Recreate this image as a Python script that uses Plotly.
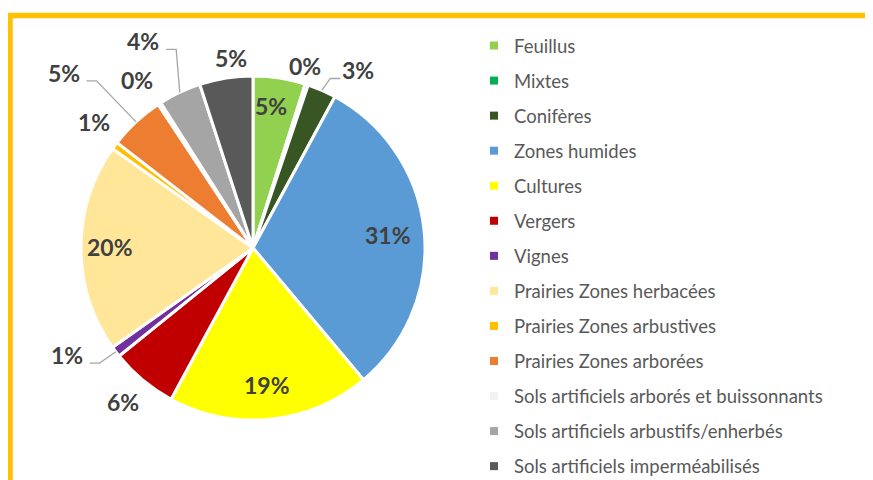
import math
import plotly.graph_objects as go

# ---- data ----
categories = ["Feuillus", "Mixtes", "Conifères", "Zones humides", "Cultures", "Vergers",
              "Vignes", "Prairies Zones herbacées", "Prairies Zones arbustives",
              "Prairies Zones arborées", "Sols artificiels arborés et buissonnants",
              "Sols artificiels arbustifs/enherbés", "Sols artificiels imperméabilisés"]
values = [4.9, 0.3, 2.7, 31.0, 19.0, 6.3, 1.0, 19.6, 0.7, 5.2, 0.3, 4.0, 5.0]
colors = ["#92D050", "#00B050", "#375623", "#5B9BD5", "#FFFF00", "#C00000",
          "#7030A0", "#FFE699", "#FFC000", "#ED7D31", "#F2F2F2", "#A5A5A5", "#595959"]

# ---- label styling (radius factor, angular shift in degrees, leader line) ----
label_radius = [0.83, 1.10, 1.20, 0.79, 0.80, 1.17, 1.25, 0.83, 1.18, 1.50, 1.19, 1.36, 1.11]
label_shift = [-1.5, -2.2, 7.1, 0.3, 0.0, 0.4, 7.2, 0.4, 2.0, -4.4, -1.7, -2.8, 2.4]
leader = [False, False, True, False, False, False, True, False, False, True, False, True, False]

# page body has an 8px default margin: figure is sized to fit the 873x480 window
OFF = 8
W, H = 873 - OFF, 480 - OFF
CX, CY, R = 253, 248, 172


def px(x):
    return (x - OFF) / W


def py(y):
    return 1 - (y - OFF) / H


fig = go.Figure()
fig.add_trace(go.Pie(
    labels=categories, values=values, sort=False, direction="clockwise", rotation=0,
    marker=dict(colors=colors, line=dict(color="white", width=3)),
    textinfo="none", showlegend=False, hoverinfo="label+percent",
    domain=dict(x=[px(CX - R), px(CX + R)], y=[py(CY + R), py(CY - R)]),
))

# legend entries
for i, (c, col) in enumerate(zip(categories, colors)):
    fig.add_trace(go.Scatter(
        x=[None], y=[None], mode="markers", name=c, legendgroup=f"g{i}",
        marker=dict(symbol="square", size=8, color=col), showlegend=True,
    ))

total = sum(values)
annotations = []
shapes = []
cum = 0.0
for i, v in enumerate(values):
    mid = (cum + v / 2) / total * 360.0
    cum += v
    ang = math.radians(mid + label_shift[i])
    lx = CX + label_radius[i] * R * math.sin(ang)
    ly = CY - label_radius[i] * R * math.cos(ang)
    pct = round(v / total * 100)
    annotations.append(dict(
        x=px(lx), y=py(ly), xref="paper", yref="paper", text=f"{pct}%",
        showarrow=False, xanchor="center", yanchor="middle",
        font=dict(family="Lato", size=23, color="#404040", weight="bold"),
    ))
    if leader[i]:
        ma = math.radians(mid)
        ex = CX + R * math.sin(ma)
        ey = CY - R * math.cos(ma)
        hy = ly + 8
        if lx > CX:
            endx = lx - 18
            elx = endx - 10
        else:
            endx = lx + 23
            elx = endx + 10
        shapes.append(dict(
            type="path", xref="paper", yref="paper",
            path=f"M {px(ex)},{py(ey)} L {px(elx)},{py(hy)} L {px(endx)},{py(hy)}",
            line=dict(color="#A6A6A6", width=1.3),
        ))

# outer yellow frame
shapes.append(dict(
    type="rect", xref="paper", yref="paper", x0=px(10), y0=py(15.5), x1=px(900), y1=py(520),
    line=dict(color="#FFC000", width=5.5), fillcolor="rgba(0,0,0,0)", layer="above",
))

fig.update_layout(
    width=W, height=H, margin=dict(l=0, r=0, t=0, b=0, autoexpand=False),
    paper_bgcolor="white", plot_bgcolor="white",
    xaxis=dict(visible=False), yaxis=dict(visible=False),
    annotations=annotations, shapes=shapes,
    legend=dict(
        x=px(474), y=py(27), xanchor="left", yanchor="top",
        font=dict(family="Lato", size=18.5, color="#595959"),
        tracegroupgap=8, bgcolor="rgba(0,0,0,0)",
    ),
)

fig.write_html("out.html")
